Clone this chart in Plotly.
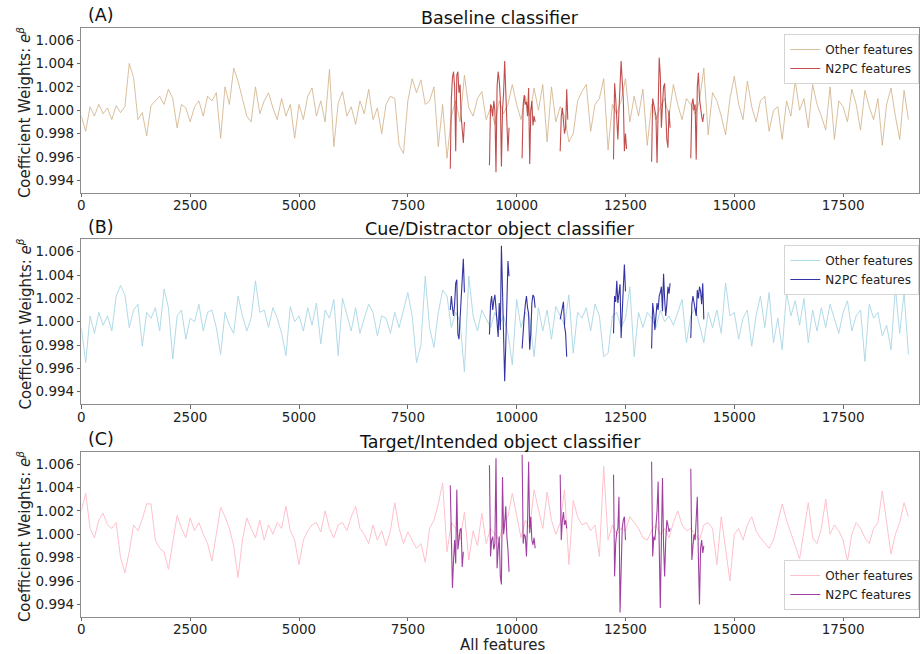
import numpy as np
import plotly.graph_objects as go

# ---- data (values are deviations from 1.0, in units of 1e-4) ----
OTHER_STEP = 100   # feature index spacing of "other" samples
N2PC_STEP = 25     # feature index spacing inside N2PC segments

baseline_other_e4 = [
    -5, -18, 3, -5, 5, -3, 2, -8, 4, -2,
    3, 40, 28, -8, -2, -22, 4, 8, 12, 5,
    18, 10, -15, 5, 2, -10, 3, 8, -5, 12,
    8, 15, -24, 20, 5, 36, 25, 10, -5, -10,
    20, -3, 8, 15, 2, -8, 10, -5, 5, -24,
    5, -8, 12, 19, -5, 8, -10, 35, -31, 6,
    16, -5, 3, -12, 8, -3, 18, -8, 2, -20,
    5, 12, 10, -30, -37, 8, 27, 15, 26, 5,
    8, 20, -31, 5, -41, -5, 8, -10, 30, 2,
    -5, 10, 16, -8, 2, -12, 8, -3, 5, 22,
    5, -8, 12, -5, 19, 0, 22, -27, 20, -10,
    3, -5, -27, -20, 8, 16, 22, -18, 5, 10,
    27, -34, 5, -3, 8, 27, -10, 12, -5, 18,
    -30, 5, -8, 3, 10, -5, 22, 5, -8, 10,
    5, -3, 8, 36, -21, 15, 8, -5, -21, 10,
    29, 5, -8, 25, 3, -10, 8, 12, -18, 0,
    3, -25, 8, -5, 25, 0, 10, -15, 22, 5,
    -5, -17, 20, -25, 8, 3, -10, 18, 5, -17,
    17, 3, -8, 10, -30, 5, 19, -5, -25, 17,
    -8,
]

cue_other_e4 = [
    -5, -35, 5, -10, 8, -3, 5, -8, 22, 31,
    23, -5, 10, 15, -21, 8, 3, 12, -8, 28,
    12, -32, 5, 10, -15, 3, 0, 15, -8, 8,
    10, -5, -28, 8, -3, -10, 22, 5, -8, 3,
    35, 8, 10, -5, 12, 3, -10, -29, 13, 0,
    5, -8, 12, -3, 16, -19, 10, 3, 19, -29,
    20, 5, -8, 12, -10, 3, 15, 8, -12, 5,
    3, -10, 8, -5, 10, 25, 5, -35, -20, 39,
    -5, -22, 8, 27, 22, -5, 8, 0, -43, 39,
    5, -8, 10, 3, -5, 8, -3, 5, -10, -37,
    19, -5, 8, 3, -30, 12, -8, 10, -15, 13,
    5, -3, 23, -27, 8, 3, 12, -8, 15, 5,
    -30, -27, 5, 8, -5, 3, 30, -30, 8, -5,
    8, 3, -5, 10, 0, 5, -3, 8, 19, -18,
    5, 12, -3, -18, 8, -5, 10, -10, 33, 5,
    8, -15, 3, 10, -21, 5, 22, -5, 25, -18,
    3, -24, 25, 5, 18, -3, 20, -18, 10, -8,
    12, -5, 15, 3, -10, 8, 18, -8, 5, 10,
    -34, 15, 3, 8, -12, -3, -24, 29, -10, 25,
    -28,
]

target_other_e4 = [
    20, 35, 5, -3, 12, 18, 8, 5, 10, -20,
    -33, -15, 8, 3, 13, 26, 26, -5, -12, -15,
    -30, -5, 16, 5, -3, 14, 3, 10, 0, -8,
    -23, 0, 23, 15, 5, -10, -37, -5, 14, 5,
    -3, 12, -5, 8, 0, 10, 5, 24, 3, -5,
    -26, -5, 3, 8, 10, 2, 20, 5, -3, 8,
    10, 3, 15, 24, 5, 0, -8, 8, -5, 3,
    -10, 3, 27, 5, -8, 2, -5, -12, -8, -24,
    5, 12, 26, 44, -15, 10, 5, -5, 19, -22,
    3, -10, 18, -8, 5, 0, -5, 10, 15, 35,
    15, -3, 12, 5, 38, 22, 5, 36, 12, 0,
    10, 38, -26, 29, 15, 8, 10, 3, 8, -19,
    58, -5, 8, 0, 5, 3, 15, 10, 5, -3,
    -5, 3, 8, 0, 5, -3, 10, 20, 8, 3,
    5, 0, -5, 8, 10, 5, -26, 15, -12, -40,
    0, 5, -5, 8, 15, 3, -3, -8, -12, -5,
    10, 26, 12, 0, -10, -21, 5, 27, -3, -8,
    5, 30, 0, 8, 3, -5, -23, 0, 10, 5,
    -3, -8, 5, 10, 37, 8, -17, 0, 10, 27,
    15,
]

# N2PC feature blocks: first feature index of each block
n2pc_starts = [8475, 9375, 10125, 11000, 12225, 13100, 14000]

baseline_n2pc_e4 = [
    [-50, 10, 28, 33, 20, -35, 30, 33, 15, 22, -5, -20, -28, -10],
    [-47, 5, 3, -5, 8, 0, -53, 20, 33, 25, 10, -48, 0, 15, 42, 5, -10, -35, -15],
    [-41, 5, 13, 5, 7, -5, 19, -46, -1, 8, -13, -5, -10],
    [-35, -5, 2, -10, -20, -15, 18, -8],
    [-42, 23, 10, -5, -25, 0, 30, 42, 25, 10, -35, -20, -33],
    [-44, 10, 5, 0, -5, -45, 15, 45, 30, -15, 5, 20, 23, -10, -25, -32, 0, -15],
    [-41, 5, 10, 0, 5, -42, 20, 32, 10, 0, -5, -10, -3],
]

cue_n2pc_e4 = [
    [10, 22, 12, 5, 15, 33, 36, -11, -15, 0, 20, 40, 54, 25],
    [-11, 15, 22, 10, 18, 23, 12, 2, -13, 16, -7, 65, 20, -10, -51, -20, 16, 52, 39],
    [-23, -5, 5, 15, 22, 12, 7, -24, -10, 16, 23, 21, 12],
    [2, 8, 12, 17, -4, -10, -30],
    [-10, 22, 17, 35, 16, 27, 32, -14, 15, 29, 49, 26],
    [-23, 16, 7, -7, 5, 16, 10, 22, 25, 30, 9, 41, 19, 5, 15, 30, 24, 33],
    [-14, 15, 22, 16, 10, 5, 27, 20, 30, 26, 15, 33, 2],
]

target_n2pc_e4 = [
    [42, -13, -46, -22, -5, -25, 38, -13, -2, 4, 5, -28, -15],
    [59, -19, -5, -2, -13, -8, 65, -29, -13, -2, -36, -43, 49, 0, 9, 24, -2, -13, -32],
    [68, -8, 0, -2, -19, 10, 62, 1, 15, -5, -9, -3, -12],
    [51, -5, 12, 19, 8, 12, 5],
    [51, -36, -8, 2, 5, 32, -67, -13, 5, 12, 15, -5],
    [62, -19, -2, -5, 7, 20, 45, -36, -63, -5, 48, -10, -36, -5, 12, 8, 2, 5],
    [56, -22, -10, 0, -5, 10, 32, -20, -60, -12, -5, -16, -10],
]

panel_titles = ["Baseline classifier", "Cue/Distractor object classifier",
                "Target/Intended object classifier"]
panel_letters = ["(A)", "(B)", "(C)"]
x_tick_vals = [0, 2500, 5000, 7500, 10000, 12500, 15000, 17500]
y_tick_vals = [0.994, 0.996, 0.998, 1.000, 1.002, 1.004, 1.006]

other_colors = ["rgba(210,180,140,0.85)", "rgba(173,216,230,0.95)", "rgba(255,192,203,1)"]
n2pc_colors = ["rgba(178,34,34,0.8)", "rgba(0,0,139,0.8)", "rgba(128,0,128,0.75)"]

# ---- figure ----
W, H = 920, 654
XL, XR = 77.7, 919.3
panel_px = [(27.7, 192.7), (239.3, 404.0), (451.7, 616.7)]

def py(v):
    return 1 - v / H

fig = go.Figure()
others = [baseline_other_e4, cue_other_e4, target_other_e4]
n2pcs = [baseline_n2pc_e4, cue_n2pc_e4, target_n2pc_e4]
legend_names = ["legend", "legend2", "legend3"]

for i in range(3):
    ax = "" if i == 0 else str(i + 1)
    xo = np.arange(len(others[i])) * OTHER_STEP
    yo = 1 + np.array(others[i]) * 1e-4
    fig.add_trace(go.Scatter(
        x=xo, y=yo, mode="lines", name="Other features",
        line=dict(color=other_colors[i], width=1),
        xaxis="x" + ax, yaxis="y" + ax, legend=legend_names[i],
        hoverinfo="skip"))
    xs, ys = [], []
    for start, seg in zip(n2pc_starts, n2pcs[i]):
        xs += list(start + N2PC_STEP * np.arange(len(seg))) + [None]
        ys += list(1 + np.array(seg) * 1e-4) + [None]
    fig.add_trace(go.Scatter(
        x=xs, y=ys, mode="lines", name="N2PC features",
        line=dict(color=n2pc_colors[i], width=1.1),
        xaxis="x" + ax, yaxis="y" + ax, legend=legend_names[i],
        hoverinfo="skip", connectgaps=False))

tick_font = dict(family="DejaVu Sans", size=13.5, color="#222222")
layout = dict(
    width=W, height=H, margin=dict(l=0, r=0, t=0, b=0),
    paper_bgcolor="white", plot_bgcolor="white",
    font=dict(family="DejaVu Sans", color="#222222"),
    annotations=[],
)
for i in range(3):
    ax = "" if i == 0 else str(i + 1)
    top, bot = panel_px[i]
    layout["xaxis" + ax] = dict(
        domain=[XL / W, XR / W], range=[0, 19250], anchor="y" + ax,
        tickvals=x_tick_vals, ticktext=[str(v) for v in x_tick_vals],
        ticks="outside", ticklen=3.5, tickcolor="#666666",
        ticklabelstandoff=-3,
        showline=True, mirror=True, linecolor="#8c8c8c", linewidth=1,
        showgrid=False, zeroline=False, tickfont=tick_font)
    layout["yaxis" + ax] = dict(
        domain=[py(bot), py(top)], range=[0.99295, 1.00706], anchor="x" + ax,
        tickvals=y_tick_vals, tickformat=".3f",
        ticks="outside", ticklen=3.5, tickcolor="#666666",
        showline=True, mirror=True, linecolor="#8c8c8c", linewidth=1,
        showgrid=False, zeroline=False, tickfont=tick_font)
    layout["annotations"].append(dict(
        text=panel_titles[i], x=(XL + XR) / 2 / W, y=py(top - 10 + (0.6 if i == 0 else 0)),
        xref="paper", yref="paper", xanchor="center", yanchor="middle",
        showarrow=False, font=dict(size=17.5, color="#111111")))
    layout["annotations"].append(dict(
        text=panel_letters[i], x=97 / W, y=py(top - 12.5),
        xref="paper", yref="paper", xanchor="center", yanchor="middle",
        showarrow=False, font=dict(size=17.5, color="#111111")))
    layout["annotations"].append(dict(
        text="Coefficient Weights: <i>e</i><sup><i>β</i></sup>",
        x=20 / W, y=py((top + bot) / 2 + 2), textangle=-90,
        xref="paper", yref="paper", xanchor="center", yanchor="middle",
        showarrow=False, font=dict(size=15, color="#222222")))

layout["annotations"].append(dict(
    text="All features", x=501 / W, y=py(645), xref="paper", yref="paper",
    xanchor="center", yanchor="middle", showarrow=False,
    font=dict(size=15, color="#222222")))

leg_common = dict(bgcolor="rgba(255,255,255,0.85)", bordercolor="#d4d4d4",
                  borderwidth=1, font=dict(size=12, color="#222222"),
                  xanchor="right", x=XR / W, tracegroupgap=0)
layout["legend"] = dict(leg_common, yanchor="top", y=py(34))
layout["legend2"] = dict(leg_common, yanchor="top", y=py(245))
layout["legend3"] = dict(leg_common, yanchor="bottom", y=py(610))

fig.update_layout(**layout)
fig.write_html(
    "out.html",
    config={"displayModeBar": False},
    post_script="document.body.style.margin='0px';document.body.style.padding='0px';",
)
